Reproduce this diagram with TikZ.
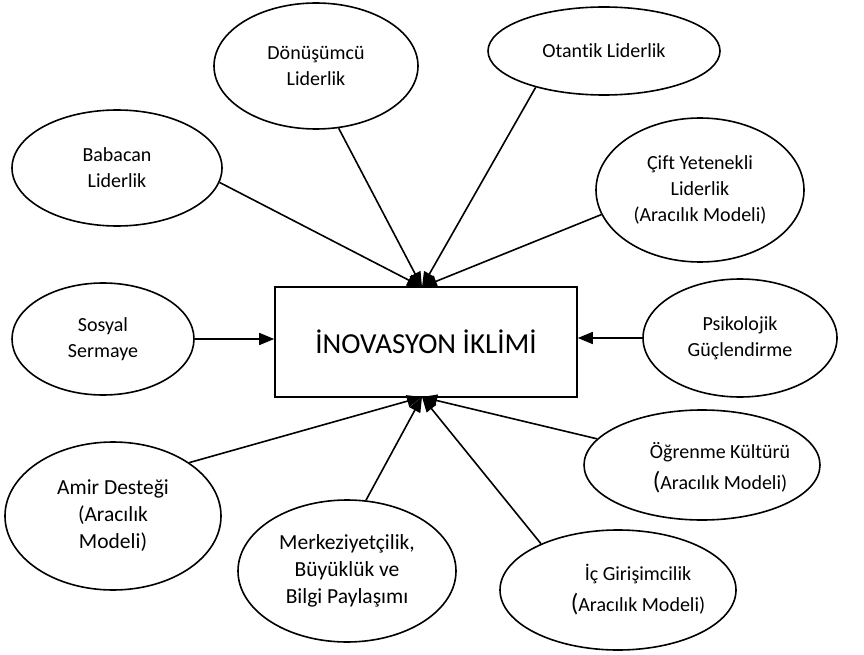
\documentclass[tikz,border=0pt]{standalone}
\usepackage{fontspec}
\setmainfont{Carlito}[Ligatures=NoCommon]
\usetikzlibrary{shapes.geometric,arrows.meta}
\begin{document}
\begin{tikzpicture}[x=1pt,y=-1pt,
  bubble/.style={ellipse,draw,line width=1.6pt,inner sep=0pt,align=center,font=\fontsize{20}{26}\selectfont},
  bigtext/.style={font=\fontsize{21.5}{27}\selectfont},
  txt/.style={inner sep=0pt,align=center,font=\fontsize{20}{26}\selectfont},
  conn/.style={line width=1.6pt,-{Triangle[length=15pt,width=12pt]}}]
\useasboundingbox (0,0) rectangle (864,655);
% central box
\node[draw,line width=1.6pt,minimum width=302pt,minimum height=110pt,inner sep=0pt,
      font=\fontsize{29}{34}\selectfont] (box) at (426,342) {İNOVASYON İKLİMİ};
\coordinate (ttop) at (422,287);
\coordinate (tbot) at (422,397);
% ellipses
\node[bubble,minimum width=204pt,minimum height=126pt] (don) at (316,66) {Dönüşümcü\\Liderlik};
\node[bubble,minimum width=232pt,minimum height=88pt] (ota) at (604,51) {Otantik Liderlik};
\node[bubble,minimum width=210pt,minimum height=116pt] (bab) at (117,168) {Babacan\\Liderlik};
\node[bubble,minimum width=208pt,minimum height=144pt] (cift) at (700,190) {Çift Yetenekli\\Liderlik\\(Aracılık Modeli)};
\node[bubble,minimum width=182pt,minimum height=112pt] (sos) at (103,339) {Sosyal\\Sermaye};
\node[bubble,minimum width=194pt,minimum height=118pt] (psi) at (740,338) {Psikolojik\\Güçlendirme};
\node[bubble,bigtext,minimum width=216pt,minimum height=148pt] (amir) at (113,516) {Amir Desteği\\(Aracılık\\Modeli)};
\node[bubble,bigtext,minimum width=218pt,minimum height=142pt] (mer) at (347,571) {Merkeziyetçilik,\\Büyüklük ve\\Bilgi Paylaşımı};
\node[bubble,minimum width=236pt,minimum height=110pt] (ogr) at (702,465) {};
\node[txt] (ogrt) at (720,468) {Öğrenme Kültürü\\[5pt]{\fontsize{25}{26}\selectfont(}Aracılık Modeli)};
\node[bubble,minimum width=236pt,minimum height=120pt] (ic) at (618,590) {};
\node[txt] (ict) at (638,590) {İç Girişimcilik\\[5pt]{\fontsize{25}{26}\selectfont(}Aracılık Modeli)};
% connectors
\draw[conn] (bab.352) -- (ttop);
\draw[conn] (don.290) -- (ttop);
\draw[conn] (ota.208) -- (ttop);
\draw[conn] (cift.194) -- (ttop);
\draw[conn] (sos.east) -- (sos.east -| box.west);
\draw[conn] (psi.west) -- (psi.west -| box.east);
\draw[conn] (amir.35) -- (tbot);
\draw[conn] (mer.75) -- (tbot);
\draw[conn] (ogr.166) -- (tbot);
\draw[conn] (ic.149) -- (tbot);
\end{tikzpicture}
\end{document}
